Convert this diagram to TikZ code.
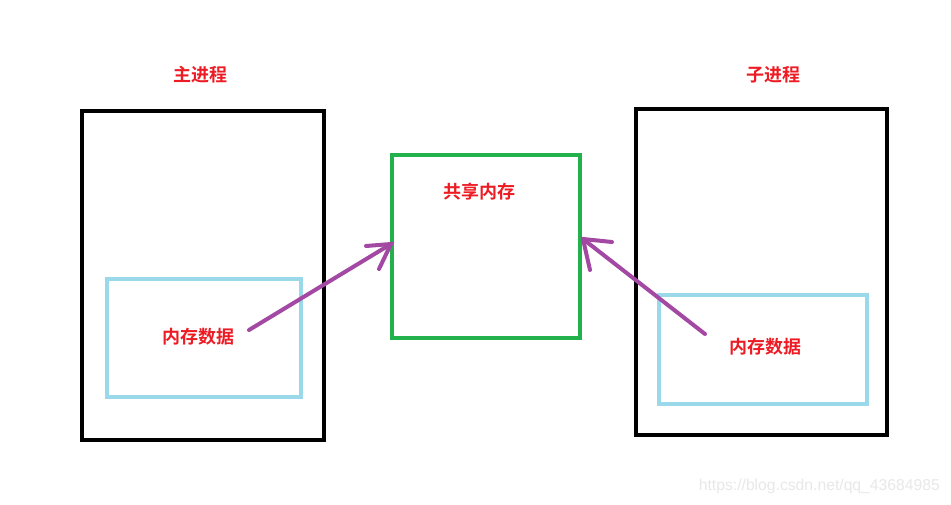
\documentclass[tikz,border=0pt]{standalone}
\usepackage{fontspec}
\setmainfont{Liberation Sans}
\newfontfamily\cjk{Noto Sans CJK SC}[BoldFont={Noto Sans CJK SC Bold}]
\definecolor{lblue}{HTML}{99D9EA}
\definecolor{dgreen}{HTML}{22B14C}
\definecolor{purp}{HTML}{A349A4}
\definecolor{tred}{HTML}{ED1C24}
\definecolor{wm}{HTML}{E8E8E8}
\begin{document}
\begin{tikzpicture}[x=1pt,y=-1pt,
  procbox/.style={draw=black,line width=4pt},
  shmbox/.style={draw=dgreen,line width=4pt},
  databox/.style={draw=lblue,line width=3.5pt},
  lab/.style={text=tred,font=\cjk\bfseries\fontsize{18}{20}\selectfont,inner sep=0pt},
  arr/.style={draw=purp,line width=4pt,line cap=round}]
\useasboundingbox[fill=white] (0,0) rectangle (951,504);
% boxes
\draw[procbox] (82,111) rectangle (324,440);
\draw[procbox] (636,109) rectangle (887,435);
\draw[shmbox] (392,155) rectangle (580,338);
\draw[databox] (107,279) rectangle (301,397);
\draw[databox] (659,295) rectangle (867,404);
% labels
\node[lab] (main) at (200,75) {主进程};
\node[lab] (child) at (773,75) {子进程};
\node[lab] (shm) at (479,192) {共享内存};
\node[lab] (dl) at (198,337) {内存数据};
\node[lab] (dr) at (765,347) {内存数据};
% arrows
\coordinate (lstart) at (249,330);
\coordinate (ltip) at (391,244);
\coordinate (lh1) at (366,246);
\coordinate (lh2) at (379,269);
\coordinate (rstart) at (705,334);
\coordinate (rtip) at (583,239);
\coordinate (rh1) at (612,242);
\coordinate (rh2) at (590,270);
\draw[arr] (lstart) -- (ltip);
\draw[arr] (lh1) -- (ltip) -- (lh2);
\draw[arr] (rstart) -- (rtip);
\draw[arr] (rh1) -- (rtip) -- (rh2);
% watermark
\node[text=wm,font=\fontsize{15.7}{17}\selectfont,anchor=east,inner sep=0pt] (wmk) at (940,486) {https://blog.csdn.net/qq\_43684985};
\end{tikzpicture}
\end{document}
